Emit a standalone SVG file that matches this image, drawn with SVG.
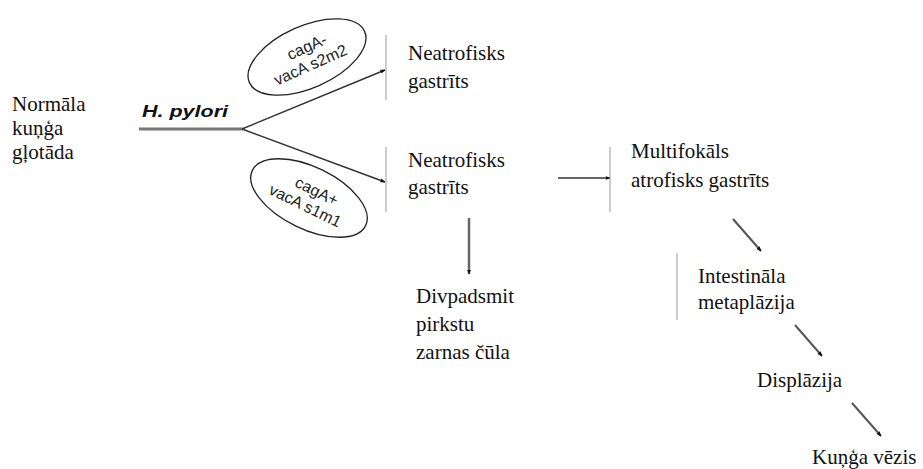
<svg xmlns="http://www.w3.org/2000/svg" width="923" height="469" viewBox="0 0 923 469">
<defs>
<marker id="ah" viewBox="0 0 10 10" refX="9" refY="5" markerWidth="5" markerHeight="5" orient="auto" markerUnits="userSpaceOnUse">
<path d="M0,1 L10,5 L0,9 Z" fill="#111"/>
</marker>
<style>
.t{font-family:'Liberation Serif',serif;font-size:21px;fill:#111}
.s{font-family:'Liberation Sans',Arial,sans-serif;font-size:16px;fill:#222}
.bar{stroke:#999;stroke-width:1;fill:none}
.ar{stroke:#333;stroke-width:1.5;fill:none;marker-end:url(#ah)}
.dg{stroke:#555;stroke-width:2;fill:none;marker-end:url(#ah)}
.el{fill:#fff;stroke:#222;stroke-width:1.3}
</style>
</defs>
<rect width="923" height="469" fill="#fff"/>

<g id="connectors">
<line x1="139" y1="129" x2="243" y2="129" stroke="#777" stroke-width="3"/>
<line x1="242" y1="129" x2="385" y2="70" class="ar"/>
<line x1="242" y1="129" x2="385" y2="182" class="ar"/>
<line x1="558" y1="178" x2="610" y2="178" class="ar"/>
<line x1="469" y1="218" x2="469" y2="274" stroke="#666" stroke-width="2.5" marker-end="url(#ah)"/>
<line x1="733" y1="219" x2="761" y2="251" class="dg"/>
<line x1="795" y1="325" x2="822" y2="356" class="dg"/>
<line x1="852" y1="403" x2="881" y2="436" class="dg"/>
<line x1="386" y1="35" x2="386" y2="100" class="bar"/>
<line x1="386" y1="147" x2="386" y2="212" class="bar"/>
<line x1="610" y1="147" x2="610" y2="212" class="bar"/>
<line x1="677" y1="253" x2="677" y2="320" class="bar"/>
</g>

<g id="normal">
<text class="t" x="12" y="111">Normāla</text>
<text class="t" x="12" y="135">kuņģa</text>
<text class="t" x="12" y="159">gļotāda</text>
</g>

<g id="hpylori">
<text x="142" y="117" font-family="Liberation Sans,Arial,sans-serif" font-size="17" font-weight="bold" font-style="italic" fill="#111" textLength="86" lengthAdjust="spacingAndGlyphs">H. pylori</text>
</g>

<g id="strain1" transform="translate(307,57) rotate(-24)">
<ellipse class="el" cx="0" cy="0" rx="63" ry="31"/>
<text class="s" x="4" y="-4" text-anchor="middle">cagA-</text>
<text class="s" x="0" y="14" text-anchor="middle">vacA s2m2</text>
</g>

<g id="strain2" transform="translate(309,198) rotate(26)">
<ellipse class="el" cx="0" cy="0" rx="63" ry="31"/>
<text class="s" x="4" y="-4" text-anchor="middle">cagA+</text>
<text class="s" x="0" y="14" text-anchor="middle">vacA s1m1</text>
</g>

<g id="neatro1">
<text class="t" x="408" y="60">Neatrofisks</text>
<text class="t" x="408" y="88">gastrīts</text>
</g>

<g id="neatro2">
<text class="t" x="408" y="167">Neatrofisks</text>
<text class="t" x="408" y="194">gastrīts</text>
</g>

<g id="multi">
<text class="t" x="631" y="158">Multifokāls</text>
<text class="t" x="631" y="187">atrofisks gastrīts</text>
</g>

<g id="ulcer">
<text class="t" x="416" y="303">Divpadsmit</text>
<text class="t" x="416" y="331">pirkstu</text>
<text class="t" x="416" y="359">zarnas čūla</text>
</g>

<g id="intest">
<text class="t" x="698" y="283">Intestināla</text>
<text class="t" x="698" y="309">metaplāzija</text>
</g>

<g id="displ">
<text class="t" x="757" y="387">Displāzija</text>
</g>

<g id="cancer">
<text class="t" x="812" y="464">Kuņģa vēzis</text>
</g>
</svg>
